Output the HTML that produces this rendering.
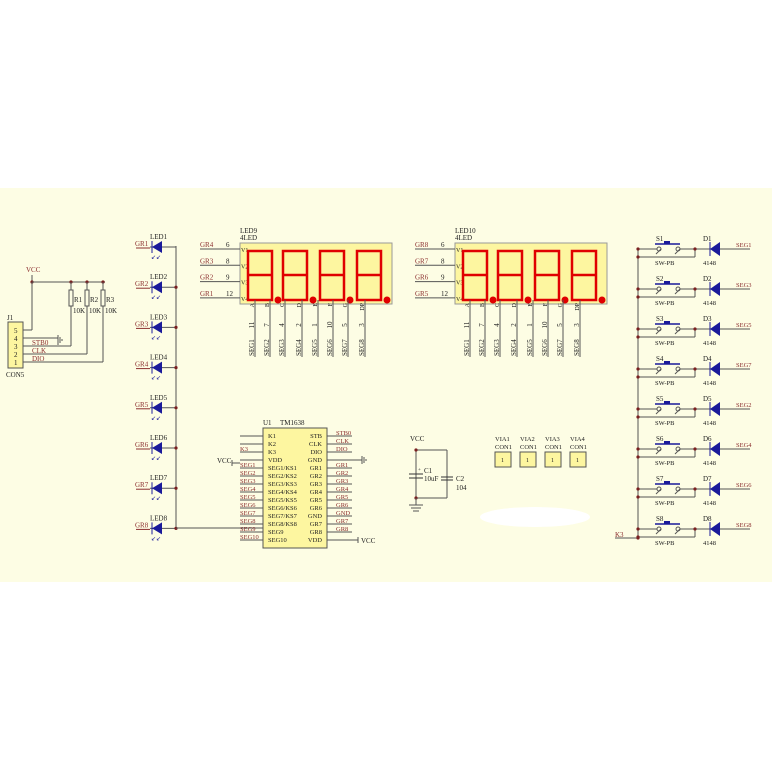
<!DOCTYPE html>
<html><head><meta charset="utf-8"><style>
html,body{margin:0;padding:0;background:#fff;}
svg{display:block;font-family:"Liberation Serif",serif;}
</style></head><body>
<svg id="s" width="772" height="772" viewBox="0 0 772 772" xmlns="http://www.w3.org/2000/svg">
<rect x="0" y="0" width="772" height="772" fill="#fff"/>
<rect x="0" y="188" width="772" height="394" fill="#fdfde4"/>
<ellipse cx="535" cy="517" rx="55" ry="10" fill="#fff"/>
<g id="g" stroke-width="1" font-size="7"></g>
</svg>
<script>
var g=document.getElementById('g'),h='';
var R='#8b2e2e',B='#1a1a9a',L='#555',RED='#e00000';
function ln(x1,y1,x2,y2,c){h+='<line x1="'+x1+'" y1="'+y1+'" x2="'+x2+'" y2="'+y2+'" stroke="'+(c||L)+'"/>';}
function tx(x,y,t,c,ex){h+='<text x="'+x+'" y="'+y+'" fill="'+(c||'#222')+'" '+(ex||'')+'>'+t+'</text>';}
function dot(x,y){h+='<circle cx="'+x+'" cy="'+y+'" r="1.6" fill="#7a2020"/>';}
// J1
h+='<rect x="8" y="322" width="15" height="46" fill="#fdf6a0" stroke="#555"/>';
var jp=['5','4','3','2','1'];
for(var i=0;i<5;i++){tx(14,333+i*8,jp[i],'#222','font-size="7"');}
tx(7,320,'J1');tx(6,377,'CON5','#222','font-size="7"');
tx(26,272,'VCC',R);ln(32,275,32,282);dot(32,282);
ln(32,282,105,282);ln(32,282,32,330);ln(23,330,32,330);
var rx=[71,87,103],rn=['R1','R2','R3'];
for(i=0;i<3;i++){dot(rx[i],282);h+='<rect x="'+(rx[i]-2)+'" y="290" width="4" height="16" fill="#fdfde4" stroke="#555"/>';ln(rx[i],282,rx[i],290);tx(rx[i]+3,302,rn[i]);tx(rx[i]+2,313,'10K');}
ln(23,338,58,338);ln(58,335,58,345);ln(60,337,60,343);ln(62,339,62,341);
ln(23,346,71,346);ln(71,306,71,346);tx(32,345,'STB0',R);
ln(23,354,87,354);ln(87,306,87,354);tx(32,353,'CLK',R);
ln(23,362,103,362);ln(103,306,103,362);tx(32,361,'DIO',R);
// LED column
var gr=['GR1','GR2','GR3','GR4','GR5','GR6','GR7','GR8'],ld=['LED1','LED2','LED3','LED4','LED5','LED6','LED7','LED8'];
ln(176,246,176,528);
for(i=0;i<8;i++){var y=247+i*40.2;tx(135,y-1,gr[i],R);ln(136,y+1,150,y+1,R);ln(150,y,176,y);
h+='<polygon points="152,'+y+' 162,'+(y-6)+' 162,'+(y+6)+'" fill="'+B+'"/>';ln(152,y-6,152,y+6,B);
tx(150,y-8,ld[i]);tx(151,y+12,'&#8601;&#8601;',B,'font-size="6"');if(i>0)dot(176,y);}
ln(176,528,263,528);
// displays
function disp(X,labs,name){
h+='<rect x="'+X+'" y="243" width="152" height="61" fill="#fdf6a0" stroke="#999"/>';
tx(X,233,name);tx(X,240,'4LED');
var pn=['6','8','9','12'],v=['V1','V2','V3','V4'];
for(var k=0;k<4;k++){var yy=249+k*16.3;tx(X-40,yy-2,labs[k],R);ln(X-40,yy,X,yy);tx(X-14,yy-2,pn[k]);tx(X+1,yy+3,v[k],'#222','font-size="6"');}
var dx=[8,43,80,117];
for(k=0;k<4;k++){var x0=X+dx[k];h+='<rect x="'+x0+'" y="251" width="24" height="49" fill="none" stroke="'+RED+'" stroke-width="2.5"/>';ln(x0,275,x0+24,275,RED);h+='<line x1="'+x0+'" y1="275" x2="'+(x0+24)+'" y2="275" stroke="'+RED+'" stroke-width="2.5"/>';h+='<circle cx="'+(x0+30)+'" cy="300" r="3.5" fill="'+RED+'"/>';}
var px=[15,30,45,62,78,93,108,125],nn=['11','7','4','2','1','10','5','3'],sg=['SEG1','SEG2','SEG3','SEG4','SEG5','SEG6','SEG7','SEG8'],sl=['A','B','C','D','E','F','G','DP'];
for(k=0;k<8;k++){var xx=X+px[k];ln(xx,300,xx,357);
h+='<text transform="translate('+(xx-1)+',303) rotate(-90)" font-size="6" fill="#222" text-anchor="end">'+sl[k]+'</text>';
h+='<text transform="translate('+(xx-1)+',325) rotate(-90)" font-size="7" fill="#222" text-anchor="middle">'+nn[k]+'</text>';
h+='<text transform="translate('+(xx-1)+',356) rotate(-90)" font-size="7" fill="#222">'+sg[k]+'</text>';}
}
disp(240,['GR4','GR3','GR2','GR1'],'LED9');
disp(455,['GR8','GR7','GR6','GR5'],'LED10');
// TM1638
h+='<rect x="263" y="428" width="64" height="120" fill="#fdf6a0" stroke="#555"/>';
tx(263,425,'U1');tx(280,425,'TM1638');
var lp=['K1','K2','K3','VDD','SEG1/KS1','SEG2/KS2','SEG3/KS3','SEG4/KS4','SEG5/KS5','SEG6/KS6','SEG7/KS7','SEG8/KS8','SEG9','SEG10'];
var ll=['','','K3','','SEG1','SEG2','SEG3','SEG4','SEG5','SEG6','SEG7','SEG8','SEG9','SEG10'];
var rp=['STB','CLK','DIO','GND','GR1','GR2','GR3','GR4','GR5','GR6','GND','GR7','GR8','VDD'];
var rl=['STB0','CLK','DIO','','GR1','GR2','GR3','GR4','GR5','GR6','GND','GR7','GR8',''];
for(i=0;i<14;i++){var y=436+i*8;ln(240,y,263,y);ln(327,y,352,y);
tx(268,y+2,lp[i],'#222','font-size="6.5"');tx(322,y+2,rp[i],'#222','font-size="6.5" text-anchor="end"');
if(ll[i])tx(240,y-1,ll[i],R,'font-size="6.5"');if(rl[i])tx(336,y-1,rl[i],R,'font-size="6.5"');}
tx(217,463,'VCC');ln(232,460,232,466);ln(232,463,240,463);
ln(352,460,362,460);ln(362,456,362,464);ln(364,457,364,463);ln(366,459,366,461);
ln(352,540,358,540);ln(358,537,358,543);tx(361,543,'VCC');
// caps
tx(410,441,'VCC');ln(416,450,447,450);ln(416,450,416,498);ln(447,450,447,498);ln(416,498,447,498);dot(416,450);dot(416,498);
ln(409,474,423,474,'#333');ln(409,478,423,478,'#333');tx(424,473,'C1');tx(424,481,'10uF');tx(418,471,'+','#222','font-size="5"');
ln(441,477,453,477,'#333');ln(441,480,453,480,'#333');tx(456,481,'C2');tx(456,490,'104');
ln(416,498,416,505);ln(409,505,423,505);ln(411,508,421,508);ln(413,511,419,511);
// vias
var vn=['VIA1','VIA2','VIA3','VIA4'];
for(i=0;i<4;i++){var x=495+i*25;tx(x,441,vn[i],'#222','font-size="6.5"');tx(x,449,'CON1','#222','font-size="6.5"');
h+='<rect x="'+x+'" y="452" width="16" height="15" fill="#fdf6a0" stroke="#555"/>';tx(x+6,462,'1','#222','font-size="6"');}
// switches
var sn=['S1','S2','S3','S4','S5','S6','S7','S8'],dn=['D1','D2','D3','D4','D5','D6','D7','D8'],sgr=['SEG1','SEG3','SEG5','SEG7','SEG2','SEG4','SEG6','SEG8'];
ln(638,249,638,538);
for(i=0;i<8;i++){var y=249+i*40;
ln(638,y,657,y);ln(638,y+8,695,y+8);dot(638,y);dot(638,y+8);
h+='<circle cx="659" cy="'+y+'" r="2" fill="none" stroke="#555"/><circle cx="678" cy="'+y+'" r="2" fill="none" stroke="#555"/>';
ln(656,y+5,661,y,'#555');ln(675,y+5,680,y,'#555');
h+='<line x1="655" y1="'+(y-5)+'" x2="680" y2="'+(y-5)+'" stroke="'+B+'" stroke-width="1.5"/><rect x="664" y="'+(y-8)+'" width="6" height="3" fill="'+B+'"/>';
ln(680,y,712,y);ln(695,y,695,y+8);dot(695,y);
h+='<polygon points="710,'+y+' 720,'+(y-7)+' 720,'+(y+7)+'" fill="'+B+'"/>';ln(710,y-7,710,y+7,B);
ln(720,y,750,y);tx(656,y-8,sn[i]);tx(655,y+16,'SW-PB','#222','font-size="6.5"');tx(703,y-8,dn[i]);tx(703,y+16,'4148','#222','font-size="6.5"');
tx(736,y-2,sgr[i],R,'font-size="6.5"');}
ln(615,538,638,538);tx(615,537,'K3',R);dot(638,538);
g.innerHTML=h;
</script>
</body></html>
